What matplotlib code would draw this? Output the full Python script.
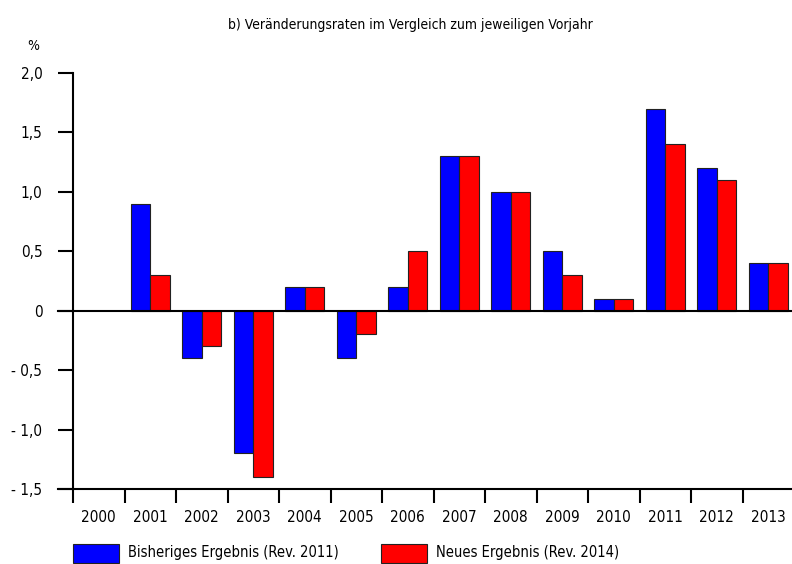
import numpy as np
import matplotlib
matplotlib.use('Agg')
import matplotlib.pyplot as plt
from matplotlib.patches import Rectangle

plt.rcParams['font.family'] = ['DejaVu Sans']
plt.rcParams['font.stretch'] = 'condensed'

# Data
years = ['2000', '2001', '2002', '2003', '2004', '2005', '2006',
         '2007', '2008', '2009', '2010', '2011', '2012', '2013']
bisher = [np.nan, 0.9, -0.4, -1.2, 0.2, -0.4, 0.2, 1.3, 1.0, 0.5, 0.1, 1.7, 1.2, 0.4]
neu = [np.nan, 0.3, -0.3, -1.4, 0.2, -0.2, 0.5, 1.3, 1.0, 0.3, 0.1, 1.4, 1.1, 0.4]
yticks = [-1.5, -1.0, -0.5, 0, 0.5, 1.0, 1.5, 2.0]
ytick_labels = ['- 1,5', '- 1,0', '- 0,5', '0', '0,5', '1,0', '1,5', '2,0']

W, H = 792, 564
fig = plt.figure(figsize=(W / 100, H / 100), dpi=100)
ax = fig.add_axes([73 / W, 75 / H, 719 / W, 416 / H])

x = np.arange(len(years))
bw = 0.38
ax.bar(x - bw / 2, bisher, bw, color='#0000ff', edgecolor='#222222', linewidth=0.8, zorder=3)
ax.bar(x + bw / 2, neu, bw, color='#ff0000', edgecolor='#222222', linewidth=0.8, zorder=3)

ax.set_xlim(-0.5, -0.5 + 719 / 51.5)
ax.set_ylim(-1.5, 2.0)

# axes styling
for s in ['top', 'right', 'bottom']:
    ax.spines[s].set_visible(False)
ax.spines['left'].set_linewidth(1.5)
ax.set_yticks(yticks)
ax.set_yticklabels(ytick_labels, fontsize=11)
ax.tick_params(axis='y', direction='out', length=11, width=1.5, pad=11)

ax.set_xticks(x)
ax.set_xticklabels(years, fontsize=11)
ax.set_xticks(np.arange(-0.5, 13, 1), minor=True)
ax.tick_params(axis='x', which='major', length=0, pad=15)
ax.tick_params(axis='x', which='minor', direction='out', length=10, width=1.5)

# zero line and base line extended to the left
ext = -15 / 719
ax.axhline(0, xmin=ext, xmax=1, color='black', linewidth=1.5, clip_on=False, zorder=4)
ax.axhline(-1.5, xmin=ext, xmax=1, color='black', linewidth=1.5, clip_on=False, zorder=4)

fig.text(410 / W, 1 - 25 / H, 'b) Veränderungsraten im Vergleich zum jeweiligen Vorjahr',
         ha='center', va='center', fontsize=10)
fig.text(33 / W, 1 - 46 / H, '%', ha='center', va='center', fontsize=10)

# legend
leg = [('Bisheriges Ergebnis (Rev. 2011)', '#0000ff', 73),
       ('Neues Ergebnis (Rev. 2014)', '#ff0000', 381)]
for label, col, x0 in leg:
    fig.add_artist(Rectangle((x0 / W, 1 / H), 46 / W, 19 / H, transform=fig.transFigure,
                             facecolor=col, edgecolor='#222222', linewidth=0.8))
    fig.text((x0 + 55) / W, 1 - 553 / H, label, ha='left', va='center', fontsize=10.5)

fig.savefig('out.png', dpi=100)
